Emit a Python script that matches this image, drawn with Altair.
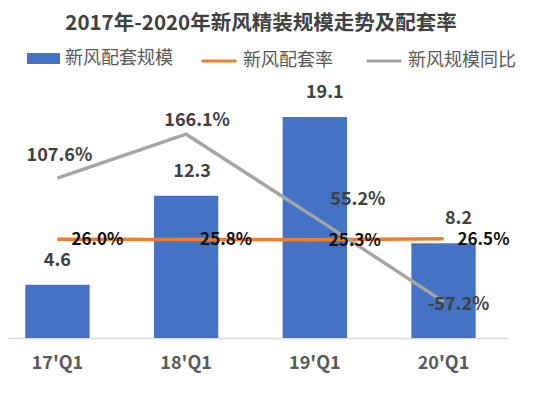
import altair as alt
import pandas as pd

categories = ["17'Q1", "18'Q1", "19'Q1", "20'Q1"]
scale_values = [4.6, 12.3, 19.1, 8.2]          # 新风配套规模
rate_values = [26.0, 25.8, 25.3, 26.5]         # 新风配套率 (%)
yoy_values = [107.6, 166.1, 55.2, -57.2]       # 新风规模同比 (%)

S_BAR = "新风配套规模"
S_RATE = "新风配套率"
S_YOY = "新风规模同比"

FONT = "Noto Sans CJK SC"
BLUE, ORANGE, GRAY = "#4472C4", "#ED7D31", "#A5A5A5"

bar_df = pd.DataFrame({
    "cat": categories,
    "v": scale_values,
    "s": S_BAR,
    "label": [f"{v:.1f}" for v in scale_values],
})
line_df = pd.concat([
    pd.DataFrame({"cat": categories, "v": rate_values, "s": S_RATE,
                  "label": [f"{v:.1f}%" for v in rate_values]}),
    pd.DataFrame({"cat": categories, "v": yoy_values, "s": S_YOY,
                  "label": [f"{v:.1f}%" for v in yoy_values]}),
], ignore_index=True)

x_enc = alt.X(
    "cat:N", sort=categories,
    scale=alt.Scale(paddingInner=0.5, paddingOuter=0.1925, align=0.348),
    axis=alt.Axis(title=None, labelAngle=0, ticks=False, labelPadding=16,
                  labelFontSize=18, labelFontWeight="bold", labelColor="#595959",
                  labelFont=FONT, domainColor="#D9D9D9", domainWidth=1.5, grid=False),
)
y_bar = alt.Y("v:Q", scale=alt.Scale(domain=[0, 22.13], nice=False, zero=False), axis=None)
y_pct = alt.Y("v:Q", scale=alt.Scale(domain=[-105.7, 235.7], nice=False, zero=False), axis=None)

bars = alt.Chart(bar_df).mark_bar().encode(
    x=x_enc, y=y_bar,
    fill=alt.Fill("s:N", scale=alt.Scale(domain=[S_BAR], range=[BLUE]),
                  legend=alt.Legend(orient="none", legendX=19, legendY=-40, title=None,
                                    symbolType="M-1,-0.33H1V0.33H-1Z", symbolSize=1089,
                                    symbolStrokeWidth=0, symbolOpacity=1, labelOffset=5,
                                    labelFontSize=18, labelColor="#595959", labelFont=FONT,
                                    padding=0)),
)

bar_dx = [0, 6, 10, 15]
bar_texts = [
    alt.Chart(bar_df).transform_filter(alt.FieldEqualPredicate(field="cat", equal=c))
    .mark_text(font=FONT, fontSize=18, fontWeight="bold", color="#404040",
               baseline="middle", dy=-24, dx=dx)
    .encode(x=x_enc, y=y_bar, text="label:N")
    for c, dx in zip(categories, bar_dx)
]

lines = alt.Chart(line_df).mark_line(strokeWidth=3.5).encode(
    x=x_enc, y=y_pct,
    stroke=alt.Stroke("s:N", scale=alt.Scale(domain=[S_RATE, S_YOY], range=[ORANGE, GRAY]),
                      legend=alt.Legend(orient="none", direction="horizontal", legendX=192,
                                        legendY=-40, title=None, symbolType="stroke",
                                        symbolSize=1225, symbolStrokeWidth=3,
                                        columnPadding=27, labelOffset=5, labelFontSize=18,
                                        labelColor="#595959", labelFont=FONT, padding=0)),
    order=alt.Order("s:N"),
    detail="s:N",
)

rate_text = alt.Chart(line_df).transform_filter(
    alt.FieldEqualPredicate(field="s", equal=S_RATE)
).mark_text(font=FONT, fontSize=17, fontWeight="bold", color="#111111",
            baseline="middle", dx=40, dy=1).encode(x=x_enc, y=y_pct, text="label:N")

yoy_offsets = [(2, -22), (11, -13), (43, -17), (15, 3)]
yoy_texts = [
    alt.Chart(line_df).transform_filter(alt.FieldEqualPredicate(field="s", equal=S_YOY))
    .transform_filter(alt.FieldEqualPredicate(field="cat", equal=c))
    .mark_text(font=FONT, fontSize=18, fontWeight="bold", color="#404040",
               baseline="middle", dx=dx, dy=dy)
    .encode(x=x_enc, y=y_pct, text="label:N")
    for c, (dx, dy) in zip(categories, yoy_offsets)
]

bar_group = alt.layer(bars, *bar_texts)
line_group = alt.layer(lines, rate_text, *yoy_texts)

chart = alt.layer(bar_group, line_group).resolve_scale(y="independent").properties(
    width=500, height=256,
    background="white",
    autosize=alt.AutoSizeParams(type="none"),
    padding={"left": 0, "top": 74, "right": 24, "bottom": 39},
    title=alt.Title("2017年-2020年新风精装规模走势及配套率", fontSize=20.5, font=FONT,
                    fontWeight="bold", color="#404040", anchor="middle", frame="group",
                    offset=8, dx=3),
).configure_view(stroke=None)

chart.save("out.html", embed_options={"renderer": "svg", "actions": False})
